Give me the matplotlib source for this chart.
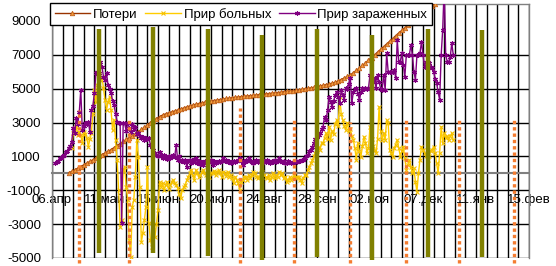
import numpy as np
import matplotlib
matplotlib.use('Agg')
import matplotlib.pyplot as plt
from matplotlib.lines import Line2D

plt.rcParams['font.family'] = ['Liberation Sans', 'DejaVu Sans']
plt.rcParams['font.size'] = 9.5

# days are counted from 06.04.2020
Poteri_first_day = 11   # one value every 2 days
Poteri = [20, 110, 200, 300, 400, 500, 600, 700, 800, 900,
          1000, 1100, 1200, 1300, 1400, 1520, 1640, 1760, 1880, 2000,
          2100, 2200, 2330, 2460, 2590, 2720, 2850, 2980, 3110, 3230,
          3340, 3440, 3510, 3570, 3630, 3680, 3740, 3800, 3860, 3920,
          3980, 4030, 4080, 4120, 4160, 4200, 4240, 4270, 4300, 4330,
          4360, 4390, 4420, 4440, 4470, 4490, 4510, 4530, 4550, 4570,
          4590, 4610, 4630, 4650, 4670, 4690, 4710, 4730, 4750, 4770,
          4790, 4820, 4840, 4860, 4880, 4900, 4930, 4960, 4990, 5020,
          5050, 5080, 5120, 5160, 5200, 5240, 5280, 5320, 5380, 5460,
          5540, 5630, 5720, 5810, 5940, 6080, 6220, 6370, 6520, 6680,
          6840, 7000, 7160, 7320, 7480, 7640, 7800, 7960, 8130, 8290,
          8440, 8590, 8740, 8890, 9040, 9190, 9340, 9480, 9620, 9760,
          9890, 10020, 10150, 10280, 10410, 10540, 10670, 10800]

Bolnyh_first_day = 13   # daily
Bolnyh = [1500, 2400, 2370, 2760, 2270, 2460, 2270, 1800, 2460, 2300,
          2070, 1580, 2000, 2370, 3500, 4930, 4200, 5220, 5810, 5500,
          5710, 5030, 4340, 3740, 4200, 4530, 3740, 2560, 3150, 1970,
          790, -980, -3150, -2750, 200, 400, -790, -1570, -3940, -4920,
          -1970, -1570, -200, 1970, 990, -790, -4040, -3540, -2750, -2000,
          400, -2950, -3940, -4330, -3340, -3740, -3000, -2160, -490, -800,
          -600, -980, -700, -500, -900, -690, -500, -390, -600, -700,
          -880, -1200, -1470, -1000, -800, -690, -400, -200, 0, 200,
          -100, -390, 200, 0, -200, -100, 100, 200, 0, -100,
          100, -200, 0, 0, 150, -100, 100, 200, 0, -200,
          100, 0, -150, 100, -200, -100, -300, -590, -200, -390,
          -600, -980, -500, -390, -200, -200, -400, -100, -290, -100,
          100, 0, -200, -300, -200, 0, 100, -100, -200, -290,
          -100, -400, -200, 0, -300, -100, -200, 100, -100, 0,
          -300, -200, -500, -390, -200, -400, -290, -100, -300, -200,
          -200, -400, -590, -300, -100, -100, 200, 400, 600, 790,
          1000, 1190, 1300, 1580, 1400, 1780, 1780, 2100, 2370, 2000,
          2760, 1970, 2500, 2300, 2900, 3150, 2800, 4530, 3500, 3150,
          2800, 2560, 3000, 2500, 2600, 2200, 1970, 1500, 790, 1780,
          1300, 990, 1600, 2170, 1800, 1190, 1500, 2760, 2000, 1600,
          1400, 1190, 2000, 3940, 2500, 1970, 2400, 1970, 3150, 2960,
          1380, 1200, 990, 1500, 1700, 1970, 1500, 990, 1300, 1580,
          900, 200, 500, 790, 400, 0, 300, -500, -1080, 0,
          800, 1580, 1400, 1190, 1000, 790, 1000, 1300, 1400, 1580,
          1190, 600, 0, 1200, 2760, 1780, 2370, 2100, 2200, 1970,
          2200, 2370, 1970]

Zarazh_first_day = 2   # daily
Zarazh = [600, 650, 750, 890, 900, 1000, 1100, 1280, 1300, 1500,
          1600, 1870, 2660, 2400, 3250, 2900, 3600, 4930, 2560, 2800,
          2960, 2900, 3050, 2460, 3750, 4000, 4730, 5910, 6010, 5900,
          6600, 6300, 5710, 5500, 5910, 5220, 5000, 4730, 4300, 4040,
          3500, 3050, 2960, 3000, -2950, 2950, 2960, 2500, 3000, 2700,
          2460, 2900, 2600, 2760, 2300, 2370, 2200, 2070, 2150, 1970,
          2100, 2000, 2070, 1700, 1580, 1400, 1190, 1100, 1000, 1280,
          1050, 900, 1100, 990, 850, 1050, 900, 1000, 1090, 950,
          1680, 790, 1000, 700, 790, 650, 800, 400, 700, 790,
          600, 690, 850, 890, 600, 700, 550, 650, 500, 700,
          600, 650, 690, 800, 500, 700, 600, 650, 700, 690,
          750, 890, 700, 790, 650, 700, 600, 690, 750, 650,
          700, 800, 890, 700, 500, 650, 790, 700, 890, 750,
          650, 600, 700, 790, 650, 700, 750, 600, 700, 650,
          790, 700, 600, 750, 690, 800, 650, 700, 890, 750,
          650, 700, 600, 600, 700, 650, 600, 600, 650, 700,
          650, 750, 700, 800, 790, 900, 1000, 1090, 1300, 1400,
          1580, 1800, 2000, 2170, 2250, 2370, 2600, 2760, 3350, 3150,
          3740, 4530, 4200, 3940, 4300, 4600, 4830, 4500, 4140, 4930,
          4600, 4340, 5030, 5000, 5300, 5620, 4140, 4830, 5000, 5030,
          4700, 4340, 4800, 5030, 5000, 5030, 5000, 5030, 5810, 5030,
          5400, 5620, 5030, 5810, 5400, 5000, 4930, 5810, 4930, 7090,
          6010, 6010, 6010, 6010, 6110, 5620, 7880, 6600, 6600, 7090,
          6400, 5710, 6990, 6990, 6990, 7580, 7000, 6000, 5520, 6990,
          7000, 7090, 7780, 7000, 6300, 6600, 6550, 6500, 6300, 6200,
          6010, 5600, 5320, 4800, 4340, 6990, 8470, 11000, 6990, 6600,
          6600, 6890, 7680, 6990]

# thick olive bars and dotted orange bars
Olive_days = [31, 67, 103, 139, 175, 211, 248, 284]
Olive_top = [8500, 8650, 8500, 8180, 8500, 8180, 8500, 8470]
Olive_bottom = [-4700, -4700, -4880, -5120, -4940, -5120, -4940, -4940]

Orange_days = [18, 51, 124, 160, 197, 234, 269, 305]
Orange_top = [3750, 3200, 3860, 3270, 3030, 3150, 3150, 3210]
Orange_bottom = -5300

Tick_days = [0, 35, 70, 105, 140, 175, 210, 245, 280, 315]
Tick_labels = ['06.апр', '11.май', '15.июн', '20.июл', '24.авг',
               '28.сен', '02.ноя', '07.дек', '11.янв', '15.фев']
Y_ticks = [-5000, -3000, -1000, 1000, 3000, 5000, 7000, 9000]
Y_grid = [-5000, -3000, -1000, 1000, 3000, 5000, 7000]

fig = plt.figure(figsize=(5.56, 2.66), dpi=100)
ax = fig.add_axes([52 / 556, 8 / 266, 477 / 556, 254 / 266])
ax.set_xlim(0, 315)
ax.set_ylim(-5000, 10000)

# weekly vertical grid + horizontal grid
for d in range(0, 316, 7):
    ax.axvline(d, color='black', lw=1.0, zorder=1)
for v in Y_grid:
    ax.axhline(v, color='black', lw=1.0, zorder=1)

x_pot = Poteri_first_day + 2 * np.arange(len(Poteri))
x_bol = Bolnyh_first_day + np.arange(len(Bolnyh))
x_zar = Zarazh_first_day + np.arange(len(Zarazh))

star = (6, 2, 0)
ax.plot(x_pot, Poteri, color='#993300', lw=1.0, marker='^', ms=3.2,
        mfc='#F29A3A', mec='#C0601A', mew=0.6, zorder=3)
ax.plot(x_bol, Bolnyh, color='#FFCC00', lw=1.0, marker='x', ms=3.5,
        mec='#F5C000', mew=0.8, zorder=3)
ax.plot(x_zar, Zarazh, color='#800080', lw=1.0, marker=star, ms=3.6,
        mec='#800080', mew=0.8, zorder=3)

ax.vlines(Olive_days, Olive_bottom, Olive_top, color='#808000', lw=3.2,
          zorder=4, clip_on=False)
ax.vlines(Orange_days, Orange_bottom, Orange_top, color='#F47C30', lw=2.4,
          linestyles=(0, (1, 0.9)), zorder=4, clip_on=False)

ax.spines['bottom'].set_position(('data', 0))
ax.spines['bottom'].set_color('#808080')
ax.spines['bottom'].set_linewidth(1.5)
ax.spines['bottom'].set_zorder(2)
for s in ['top', 'right', 'left']:
    ax.spines[s].set_color('#808080')
    ax.spines[s].set_linewidth(1.0)

ax.set_xticks(Tick_days)
ax.set_xticklabels(Tick_labels)
ax.set_yticks(Y_ticks)
ax.set_yticklabels([str(v) for v in Y_ticks])
ax.tick_params(axis='x', length=0, pad=15)
ax.tick_params(axis='y', length=0, pad=8)

handles = [
    Line2D([], [], color='#993300', lw=1.0, marker='^', ms=3.2,
           mfc='#F29A3A', mec='#C0601A', mew=0.6),
    Line2D([], [], color='#FFCC00', lw=1.0, marker='x', ms=3.5,
           mec='#F5C000', mew=0.8),
    Line2D([], [], color='#800080', lw=1.0, marker=star, ms=3.6,
           mec='#800080', mew=0.8),
]
leg = ax.legend(handles, ['Потери', 'Прир больных', 'Прир зараженных'],
                loc='upper left', bbox_to_anchor=(50 / 556, 1 - 3 / 266),
                bbox_transform=fig.transFigure, ncol=3, numpoints=1,
                frameon=True, fancybox=False, framealpha=1,
                edgecolor='black', borderpad=0.35, borderaxespad=0,
                handlelength=2.7, handletextpad=0.2, columnspacing=0.6)
leg.get_frame().set_linewidth(1.0)
leg.set_zorder(20)

fig.savefig('out.png', dpi=100)
